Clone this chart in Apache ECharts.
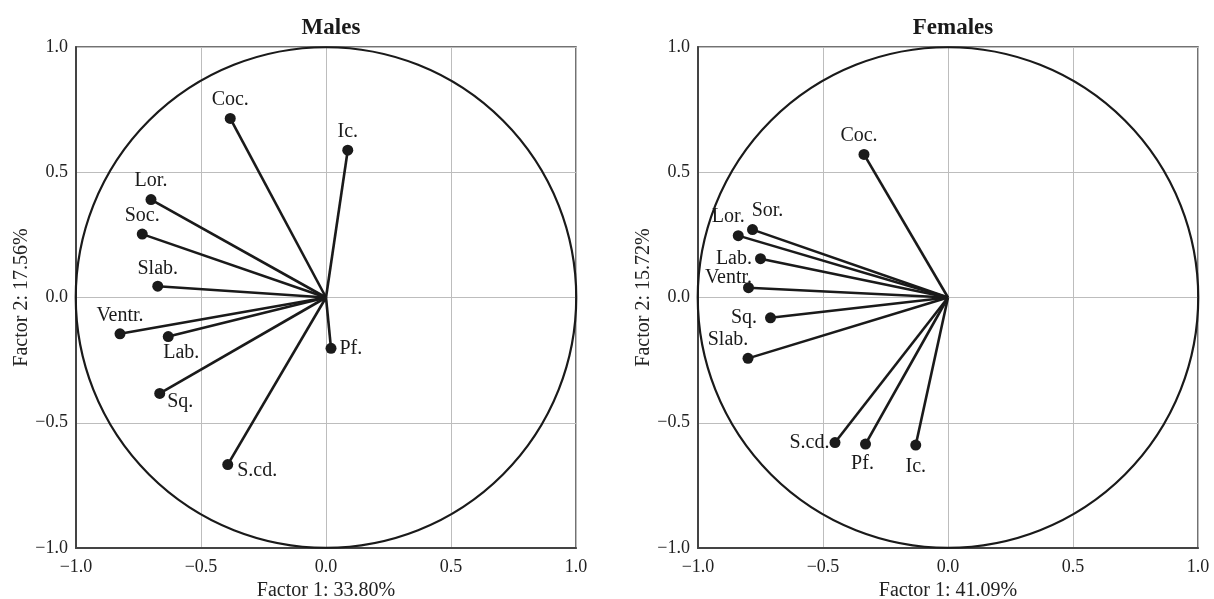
<!DOCTYPE html>
<html>
<head>
<meta charset="utf-8">
<script src="https://cdn.jsdelivr.net/npm/echarts@6/dist/echarts.min.js"></script>
<style>html,body{margin:0;padding:0;background:#fff}#c{width:1214px;height:599px}</style>
</head>
<body>
<div id="c"></div>
<script>
// ---- Data ----
const titles = ['Males', 'Females'];
const xNames = ['Factor 1: 33.80%', 'Factor 1: 41.09%'];
const yNames = ['Factor 2: 17.56%', 'Factor 2: 15.72%'];
const tickValues = [-1.0, -0.5, 0.0, 0.5, 1.0];

const maleVars = ['Coc.', 'Ic.', 'Lor.', 'Soc.', 'Slab.', 'Ventr.', 'Lab.', 'Pf.', 'Sq.', 'S.cd.'];
const maleF1 = [-0.383, 0.087, -0.700, -0.735, -0.673, -0.824, -0.631, 0.020, -0.665, -0.393];
const maleF2 = [0.715, 0.588, 0.391, 0.253, 0.045, -0.145, -0.156, -0.203, -0.383, -0.667];

const femaleVars = ['Coc.', 'Sor.', 'Lor.', 'Lab.', 'Ventr.', 'Sq.', 'Slab.', 'S.cd.', 'Pf.', 'Ic.'];
const femaleF1 = [-0.336, -0.782, -0.839, -0.750, -0.798, -0.710, -0.800, -0.452, -0.330, -0.129];
const femaleF2 = [0.571, 0.271, 0.247, 0.155, 0.039, -0.081, -0.243, -0.579, -0.585, -0.589];

// ---- Label placement (style only) ----
const maleLabelPos = {
  'Coc.': {position: 'top', distance: 3},
  'Ic.': {position: 'top', distance: 3},
  'Lor.': {position: 'top', distance: 3},
  'Soc.': {position: 'top', distance: 3},
  'Slab.': {position: 'top', distance: 2},
  'Ventr.': {position: 'top', distance: 3},
  'Lab.': {position: 'bottom', distance: 1, offset: [13, 0]},
  'Pf.': {position: 'right', distance: 3},
  'Sq.': {position: 'right', distance: 2, offset: [0, 8]},
  'S.cd.': {position: 'right', distance: 4, offset: [0, 6]}
};
const femaleLabelPos = {
  'Coc.': {position: 'top', distance: 3, offset: [-5, 0]},
  'Sor.': {position: 'top', distance: 3, offset: [15, 0]},
  'Lor.': {position: 'top', distance: 3, offset: [-10, 0]},
  'Lab.': {position: 'left', distance: 3},
  'Ventr.': {position: 'top', distance: 1, offset: [-20, 7]},
  'Sq.': {position: 'left', distance: 8},
  'Slab.': {position: 'top', distance: 3, offset: [-20, 0]},
  'S.cd.': {position: 'left', distance: 0},
  'Pf.': {position: 'bottom', distance: 4, offset: [-3, 0]},
  'Ic.': {position: 'bottom', distance: 6}
};

const FONT = '"Liberation Serif", "Times New Roman", serif';
const INK = '#1a1a1a';

const chart = echarts.init(document.getElementById('c'));

const grids = [
  {left: 76, top: 47, width: 500, height: 501},
  {left: 698, top: 47, width: 500, height: 501}
];

function fmt(v) {
  return v.toFixed(1).replace('-', '\u2212');
}

function axisCommon() {
  return {
    type: 'value', min: -1, max: 1, interval: 0.5,
    axisLine: {show: true, onZero: false, lineStyle: {color: '#444', width: 2}},
    axisTick: {show: false},
    splitLine: {show: true, lineStyle: {color: '#bdbdbd', width: 1}},
    axisLabel: {formatter: fmt, fontFamily: FONT, fontSize: 18, color: '#222'},
    nameTextStyle: {fontFamily: FONT, fontSize: 20, color: '#222'},
    nameLocation: 'middle'
  };
}

const xAxes = [], yAxes = [], titleOpts = [], series = [];
const sets = [
  {vars: maleVars, f1: maleF1, f2: maleF2, pos: maleLabelPos},
  {vars: femaleVars, f1: femaleF1, f2: femaleF2, pos: femaleLabelPos}
];

sets.forEach((s, i) => {
  const xa = axisCommon();
  xa.gridIndex = i; xa.name = xNames[i]; xa.nameGap = 30;
  xa.axisLabel.margin = 10;
  xAxes.push(xa);
  const ya = axisCommon();
  ya.gridIndex = i; ya.name = yNames[i]; ya.nameGap = i === 0 ? 44 : 40;
  ya.axisLabel.margin = 8;
  yAxes.push(ya);

  titleOpts.push({
    text: titles[i],
    left: grids[i].left + grids[i].width / 2,
    top: 12,
    textAlign: 'center',
    textStyle: {fontFamily: FONT, fontSize: 23, fontWeight: 'bold', color: INK}
  });

  // unit circle
  series.push({
    type: 'custom',
    xAxisIndex: i, yAxisIndex: i,
    data: [[0, 0]],
    silent: true,
    z: 1,
    renderItem: function (params, api) {
      const c = api.coord([0, 0]);
      const r = api.size([1, 1]);
      return {
        type: 'circle',
        shape: {cx: c[0], cy: c[1], r: (r[0] + r[1]) / 2},
        style: {fill: 'none', stroke: INK, lineWidth: 2.2}
      };
    }
  });

  // vectors
  series.push({
    type: 'lines',
    coordinateSystem: 'cartesian2d',
    xAxisIndex: i, yAxisIndex: i,
    z: 2,
    silent: true,
    lineStyle: {color: INK, width: 2.6, opacity: 1, curveness: 0},
    data: s.vars.map((n, k) => ({coords: [[0, 0], [s.f1[k], s.f2[k]]]}))
  });

  // end points with labels
  series.push({
    type: 'scatter',
    xAxisIndex: i, yAxisIndex: i,
    z: 3,
    symbol: 'circle',
    symbolSize: 11,
    itemStyle: {color: INK, opacity: 1},
    data: s.vars.map((n, k) => {
      const p = s.pos[n] || {position: 'top'};
      return {
        name: n,
        value: [s.f1[k], s.f2[k]],
        label: Object.assign({show: true, formatter: n, fontFamily: FONT, fontSize: 20, color: INK}, p)
      };
    })
  });
});

chart.setOption({
  animation: false,
  backgroundColor: '#fff',
  title: titleOpts,
  grid: grids.map(g => Object.assign({show: true, borderColor: '#444', borderWidth: 1.5, backgroundColor: 'transparent', containLabel: false, outerBoundsMode: 'none'}, g)),
  xAxis: xAxes,
  yAxis: yAxes,
  series: series
});
</script>
</body>
</html>
